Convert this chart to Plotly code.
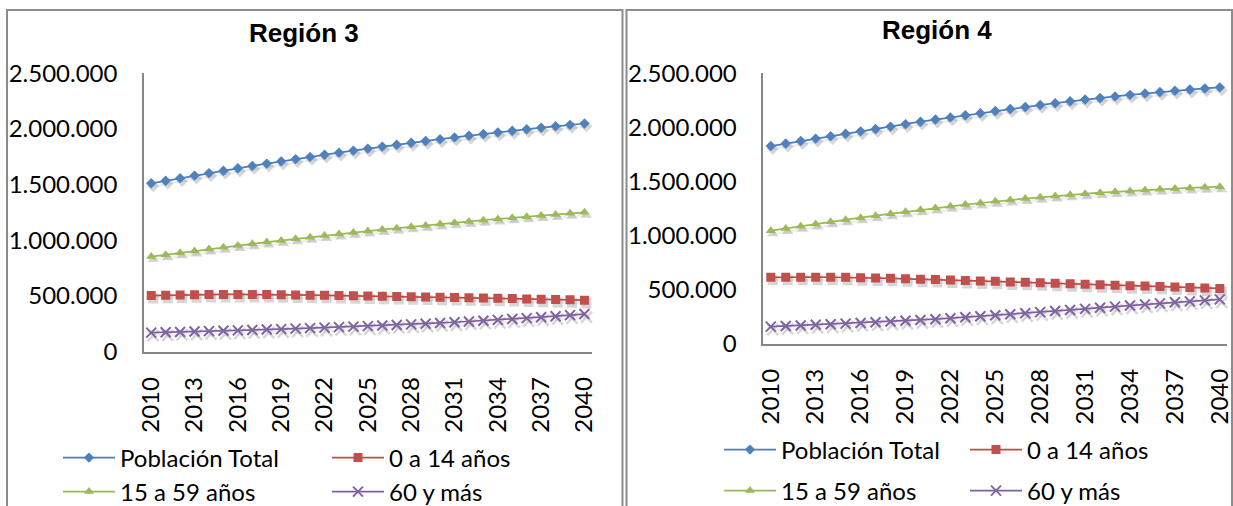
import plotly.graph_objects as go

W, H = 1233, 506

# ---- data -------------------------------------------------------------
years = [str(y) for y in range(2010, 2041)]
tick_years = ["2010", "2013", "2016", "2019", "2022", "2025",
              "2028", "2031", "2034", "2037", "2040"]
y_ticks = [0, 500000, 1000000, 1500000, 2000000, 2500000]

series_names = ["Población Total", "0 a 14 años", "15 a 59 años", "60 y más"]

# Región 3 (miles de personas)
r3_total = [1512.0, 1535.5, 1558.6, 1581.3, 1603.6, 1625.5, 1647.1, 1668.3,
            1689.1, 1709.5, 1729.5, 1749.1, 1768.4, 1787.3, 1805.8, 1823.9,
            1841.6, 1858.9, 1875.9, 1892.5, 1908.7, 1924.5, 1939.9, 1954.9,
            1969.5, 1983.7, 1997.6, 2011.1, 2024.2, 2036.9, 2049.2]
r3_0_14 = [504, 507, 510, 512, 513, 514, 514, 514, 513, 512, 510, 508, 506,
           504, 502, 500, 498, 496, 494, 492, 489, 487, 484, 482, 479, 477,
           474, 472, 469, 466, 463]
r3_15_59 = [854.0, 871.2, 888.1, 904.8, 921.2, 937.3, 953.1, 968.7, 984.0,
            999.0, 1013.8, 1028.3, 1042.5, 1056.4, 1070.1, 1083.5, 1096.6,
            1109.4, 1122.0, 1134.3, 1146.3, 1158.1, 1169.6, 1180.8, 1191.7,
            1202.4, 1212.8, 1222.9, 1232.8, 1242.4, 1251.7]
r3_60_mas = [171, 174, 177.5, 181, 184.5, 188, 191.5, 195, 199, 203, 207,
             211.5, 216, 220.5, 225, 230, 235, 240, 245.5, 251.5, 258, 264.5,
             271.5, 278.5, 286, 293.5, 301.5, 310, 319, 328.5, 338]

# Región 4 (miles de personas)
r4_total = [1827, 1850, 1873, 1896, 1918.5, 1941, 1963, 1985, 2007, 2029.5,
            2052, 2072, 2092, 2112, 2131.5, 2151, 2170, 2188.5, 2206.5, 2224,
            2241, 2257, 2272, 2286.5, 2300.5, 2314, 2326.5, 2338.5, 2349.5,
            2360, 2370]
r4_0_14 = [612, 614, 614, 614, 613, 612, 609, 606, 603, 599, 595, 591, 587,
           583, 579, 575, 570, 566, 562, 557, 553, 548, 544, 540, 535, 531,
           527, 522, 518, 514, 510]
r4_15_59 = [1044, 1065, 1086, 1106, 1126, 1145, 1164, 1183, 1201, 1220, 1238,
            1254, 1270, 1285, 1300, 1315, 1328, 1341, 1353, 1365, 1377, 1386,
            1395, 1403.5, 1412, 1420, 1426.5, 1433, 1439, 1445, 1451]
r4_60_mas = [156, 162, 167, 173, 178, 184, 190, 196, 203, 210, 217, 225, 234,
             243, 252, 261, 270, 280, 290, 300, 310, 320.5, 331, 341.5, 352,
             362, 371.5, 381, 390, 399, 408]

# ---- styling ----------------------------------------------------------
line_colors = ["#4A7EBB", "#BE4B48", "#98B954", "#7D60A0"]
fill_colors = ["#4F81BD", "#C0504D", "#9BBB59", "#8064A2"]
symbols = ["diamond", "square", "triangle-up", "x-thin"]
marker_sizes = [8, 9, 9, 10]

TEXT_FONT = "Lato, Carlito, Calibri, sans-serif"
TITLE_FONT = "Liberation Sans, Arial, sans-serif"
AXIS_GRAY = "#868686"
SHADOW_DX, SHADOW_DY = 2, 3

panels = [
    dict(title="Región 3",
         series=[r3_total, r3_0_14, r3_15_59, r3_60_mas],
         plot=(144, 591.7, 73.3, 351.7),          # left, right, top, bottom (px)
         title_xy=(304, 33),
         legend_cols=(63, 332), legend_rows=(458, 492),
         border=(7, 622.5)),
    dict(title="Región 4",
         series=[r4_total, r4_0_14, r4_15_59, r4_60_mas],
         plot=(763.3, 1227.3, 73.3, 343.5),
         title_xy=(937, 30),
         legend_cols=(724, 970), legend_rows=(450, 491),
         border=(626.5, 1232)),
]


def xdom(a, b):
    return [a / W, b / W]


def ydom(top, bottom):
    return [1 - bottom / H, 1 - top / H]


fig = go.Figure()
layout = dict(
    template="none",
    width=W, height=H,
    margin=dict(l=0, r=0, t=0, b=0, pad=0, autoexpand=False),
    paper_bgcolor="white",
    plot_bgcolor="rgba(0,0,0,0)",
    separators=",.",
    showlegend=True,
    annotations=[], shapes=[],
)

legend_idx = 0
n_panels = len(panels)
for p, panel in enumerate(panels):
    left, right, top, bottom = panel["plot"]
    suffix = str(p + 1) if p else ""
    sh_x, sh_y = "x" + suffix, "y" + suffix
    mn = p + 1 + n_panels
    mx, my = f"x{mn}", f"y{mn}"

    # soft drop shadow under the series, drawn on an offset subplot
    layout["xaxis" + suffix] = dict(
        domain=xdom(left + SHADOW_DX, right + SHADOW_DX), type="category",
        range=[-0.5, len(years) - 0.5], visible=False, anchor=sh_y)
    layout["yaxis" + suffix] = dict(
        domain=ydom(top + SHADOW_DY, bottom + SHADOW_DY),
        range=[0, 2500000], visible=False, anchor=sh_x)

    # visible axes
    layout[f"xaxis{mn}"] = dict(
        domain=xdom(left, right), type="category",
        range=[-0.5, len(years) - 0.5], anchor=my,
        tickmode="array", tickvals=tick_years, ticktext=tick_years,
        tickangle=-90, ticks="", ticklabelstandoff=14, automargin=False,
        showline=True, linecolor=AXIS_GRAY, linewidth=1.5,
        showgrid=False, zeroline=False,
        tickfont=dict(family=TEXT_FONT, size=24, color="#000000"))
    layout[f"yaxis{mn}"] = dict(
        domain=ydom(top, bottom), range=[0, 2500000], anchor=mx,
        tickmode="array", tickvals=y_ticks, tickformat=",d",
        ticks="", ticklabelstandoff=20, automargin=False,
        showline=True, linecolor=AXIS_GRAY, linewidth=1.5,
        showgrid=False, zeroline=False,
        tickfont=dict(family=TEXT_FONT, size=24, color="#000000"))

    for s, values in enumerate(panel["series"]):
        yvals = [v * 1000 for v in values]
        is_x = symbols[s] == "x-thin"
        fig.add_trace(go.Scatter(
            x=years, y=yvals, xaxis=sh_x, yaxis=sh_y, mode="lines+markers",
            showlegend=False, hoverinfo="skip",
            line=dict(color="rgba(0,0,0,0.06)", width=2.5),
            marker=dict(symbol=symbols[s], size=marker_sizes[s] + 1,
                        color="rgba(0,0,0,0.16)",
                        line=dict(width=2.5 if is_x else 0,
                                  color="rgba(0,0,0,0.16)"))))

    for s, values in enumerate(panel["series"]):
        yvals = [v * 1000 for v in values]
        is_x = symbols[s] == "x-thin"
        legend_idx += 1
        lname = "legend" if legend_idx == 1 else f"legend{legend_idx}"
        col, row = s % 2, s // 2
        fig.add_trace(go.Scatter(
            x=years, y=yvals, xaxis=mx, yaxis=my, mode="lines+markers",
            name=series_names[s], legend=lname,
            line=dict(color=line_colors[s], width=1.75),
            marker=dict(symbol=symbols[s], size=marker_sizes[s],
                        color=fill_colors[s],
                        line=dict(width=2 if is_x else 0,
                                  color=fill_colors[s]))))
        layout[lname] = dict(
            x=(panel["legend_cols"][col] - 5) / W, xanchor="left",
            y=1 - panel["legend_rows"][row] / H, yanchor="middle",
            orientation="v", bgcolor="rgba(0,0,0,0)", borderwidth=0,
            itemwidth=52, itemclick=False,
            font=dict(family=TEXT_FONT, size=24, color="#000000"))

    tx, ty = panel["title_xy"]
    layout["annotations"].append(dict(
        text=f"<b>{panel['title']}</b>", x=tx / W, y=1 - ty / H,
        xref="paper", yref="paper", xanchor="center", yanchor="middle",
        showarrow=False,
        font=dict(family=TITLE_FONT, size=26, color="#000000")))

    bx0, bx1 = panel["border"]
    layout["shapes"].append(dict(
        type="rect", xref="paper", yref="paper",
        x0=bx0 / W, x1=bx1 / W, y0=1 - 10 / H, y1=1 - 530 / H,
        line=dict(color="#8C8C8C", width=2), fillcolor="rgba(0,0,0,0)",
        layer="below"))

fig.update_layout(**layout)
fig.write_html("out.html")
